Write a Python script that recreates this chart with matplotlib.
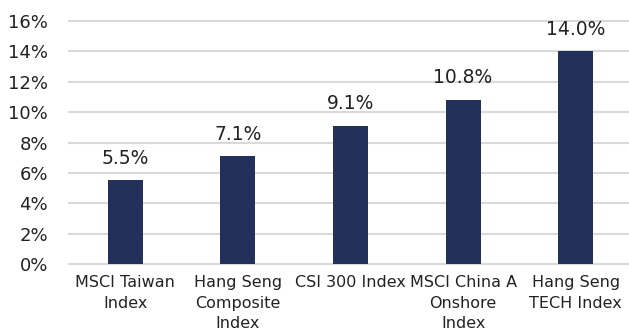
import matplotlib.pyplot as plt
import numpy as np

# ── DATA ──────────────────────────────────────────────────────
categories = ['MSCI Taiwan\nIndex', 'Hang Seng\nComposite\nIndex', 'CSI 300 Index',
              'MSCI China A\nOnshore\nIndex', 'Hang Seng\nTECH Index']
values = [5.5, 7.1, 9.1, 10.8, 14.0]
yticks = [0, 2, 4, 6, 8, 10, 12, 14, 16]

# ── PLOT ──────────────────────────────────────────────────────
plt.rcParams['font.family'] = ['DejaVu Sans']

fig = plt.figure(figsize=(6.29, 3.31), dpi=100)
ax = fig.add_axes([69 / 629, (331 - 264) / 331, (632 - 69) / 629, (264 - 21) / 331])

x = np.arange(len(categories))
ax.bar(x, values, width=0.31, color='#22305A', zorder=3)

for xi, v in zip(x, values):
    ax.annotate(f'{v:.1f}%', (xi, v), xytext=(0, 9), textcoords='offset points',
                ha='center', va='bottom', fontsize=13.5, color='#222222')

ax.set_xlim(-0.5, len(categories) - 0.5)
ax.set_ylim(0, 16)
ax.set_yticks(yticks)
ax.set_yticklabels([f'{t}%' for t in yticks], fontsize=13, color='#222222')
ax.set_xticks(x)
ax.set_xticklabels(categories, fontsize=11.5, color='#222222', linespacing=1.45)
ax.tick_params(axis='both', length=0)
ax.tick_params(axis='y', pad=15)
ax.tick_params(axis='x', pad=8)

ax.grid(axis='y', color='#D9D9D9', linewidth=1.5, zorder=0)
for gl in ax.get_ygridlines():
    gl.set_clip_on(False)
for s in ax.spines.values():
    s.set_visible(False)

fig.savefig('out.png', dpi=100)
